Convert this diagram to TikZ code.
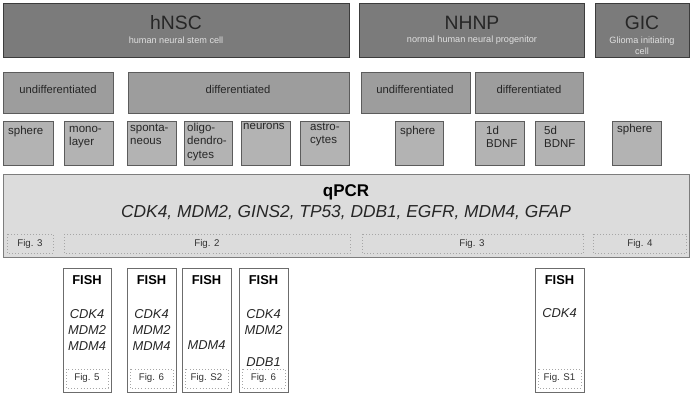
\documentclass[tikz,border=0pt]{standalone}
\usepackage{fontspec}
\setmainfont{Liberation Sans}
\definecolor{topfill}{HTML}{7B7B7B}
\definecolor{topline}{HTML}{3C3C3C}
\definecolor{midfill}{HTML}{9D9D9D}
\definecolor{lowfill}{HTML}{B3B3B3}
\definecolor{boxline}{HTML}{5C5C5C}
\definecolor{pcrfill}{HTML}{DCDCDC}
\tikzset{
  topbox/.style={draw=topline, fill=topfill, line width=0.8pt},
  midbox/.style={draw=boxline, fill=midfill, line width=0.8pt},
  lowbox/.style={draw=boxline, fill=lowfill, line width=0.8pt},
  pcrbox/.style={draw=boxline!80, fill=pcrfill, line width=0.8pt},
  fishbox/.style={draw=boxline!90, fill=white, line width=0.8pt},
  figstrip/.style={draw=gray!70, dotted, line width=0.6pt},
  title/.style={font=\fontsize{16.5}{18}\selectfont, text=black!85},
  subtitle/.style={font=\fontsize{7.8}{9.4}\selectfont, text=white!88!black, align=center},
  stage/.style={font=\fontsize{9.6}{11}\selectfont, text=black!85},
  cell/.style={font=\fontsize{9.8}{11.3}\selectfont, text=black!85, align=left, anchor=north west, inner sep=0pt},
  figtext/.style={font=\fontsize{8.3}{9}\selectfont, text=black!80},
  fish/.style={font=\bfseries\fontsize{11}{13}\selectfont},
  gene/.style={font=\itshape\fontsize{11}{13.6}\selectfont, text=black!85, align=center}
}
\begin{document}
\begin{tikzpicture}[x=0.03cm, y=-0.03cm]
    \useasboundingbox (0,0) rectangle (693,404);
    % cell sources
    \draw[topbox] (3,3) rectangle (349,57);
    \draw[topbox] (359,3) rectangle (584,57);
    \draw[topbox] (595,3) rectangle (689,57);
    \node[title] (hnsc) at (176,23) {hNSC};
    \node[subtitle] (hnscsub) at (176,40) {human neural stem cell};
    \node[title] (nhnp) at (472,23) {NHNP};
    \node[subtitle] (nhnpsub) at (472,40) {normal human neural progenitor};
    \node[title] (gic) at (642,23) {GIC};
    \node[subtitle] (gicsub) at (642,45.5) {Glioma initiating\\cell};
    % differentiation state
    \draw[midbox] (3,72) rectangle (113,113);
    \draw[midbox] (128,72) rectangle (349,113);
    \draw[midbox] (361,72) rectangle (470,113);
    \draw[midbox] (475,72) rectangle (583,113);
    \node[stage] (hundiff) at (58,89) {undifferentiated};
    \node[stage] (hdiff) at (238,89) {differentiated};
    \node[stage] (nundiff) at (415,89) {undifferentiated};
    \node[stage] (ndiff) at (529,89) {differentiated};
    % culture conditions
    \foreach \xa/\xb in {3/53, 64/113, 127/176, 184/232, 241/290, 300/349,
                        395/443, 475/524, 535/584, 612/661}
        \draw[lowbox] (\xa,121) rectangle (\xb,165);
    \node[cell] (hsphere) at (8,126) {sphere};
    \node[cell] (mono) at (69,126) {mono-\\layer};
    \node[cell] (spont) at (130,124) {sponta-\\neous};
    \node[cell] (oligo) at (187,123) {oligo-\\dendro-\\cytes};
    \node[cell] (neuro) at (243,123) {neurons};
    \node[cell] (astro) at (310,123) {astro-\\cytes};
    \node[cell] (nsphere) at (400,126) {sphere};
    \node[cell] (bdnfa) at (486,126) {1d\\BDNF};
    \node[cell] (bdnfb) at (544,126) {5d\\BDNF};
    \node[cell] (gsphere) at (617,124) {sphere};
    % qPCR
    \draw[pcrbox] (3,174) rectangle (689,257);
    \node[font=\bfseries\fontsize{14.5}{16}\selectfont] (qpcr) at (346,192) {qPCR};
    \node[font=\itshape\fontsize{14.8}{17}\selectfont, text=black!85] (genes) at (346,213)
        {CDK4, MDM2, GINS2, TP53, DDB1, EGFR, MDM4, GFAP};
    \draw[figstrip] (7,234) rectangle (53,253);
    \draw[figstrip] (64,234) rectangle (350,253);
    \draw[figstrip] (362,234) rectangle (583,253);
    \draw[figstrip] (593,234) rectangle (686,253);
    \node[figtext] (pfiga) at (30,243.5) {Fig. 3};
    \node[figtext] (pfigb) at (207,243.5) {Fig. 2};
    \node[figtext] (pfigc) at (472,243.5) {Fig. 3};
    \node[figtext] (pfigd) at (640,243.5) {Fig. 4};
    % FISH
    \foreach \xa/\xb/\lab in {63/111/Fig. 5, 127/176/Fig. 6, 182/231/Fig. S2,
                             239/288/Fig. 6, 535/584/Fig. S1} {
        \draw[fishbox] (\xa,268) rectangle (\xb,392);
        \draw[figstrip] (\xa+3,369) rectangle (\xb-3,388);
        \node[fish] at ({(\xa+\xb)/2},280) {FISH};
        \node[figtext] at ({(\xa+\xb)/2},378) {\lab};
    }
    \node[gene, anchor=north] (fgenea) at (87,305.5) {CDK4\\MDM2\\MDM4};
    \node[gene, anchor=north] (fgeneb) at (151.5,305.5) {CDK4\\MDM2\\MDM4};
    \node[gene] (fgenec) at (206.5,345) {MDM4};
    \node[gene, anchor=north] (fgened) at (263.5,305.5) {CDK4\\MDM2\\[13.6pt]DDB1};
    \node[gene] (fgenee) at (559.5,313) {CDK4};
\end{tikzpicture}
\end{document}
